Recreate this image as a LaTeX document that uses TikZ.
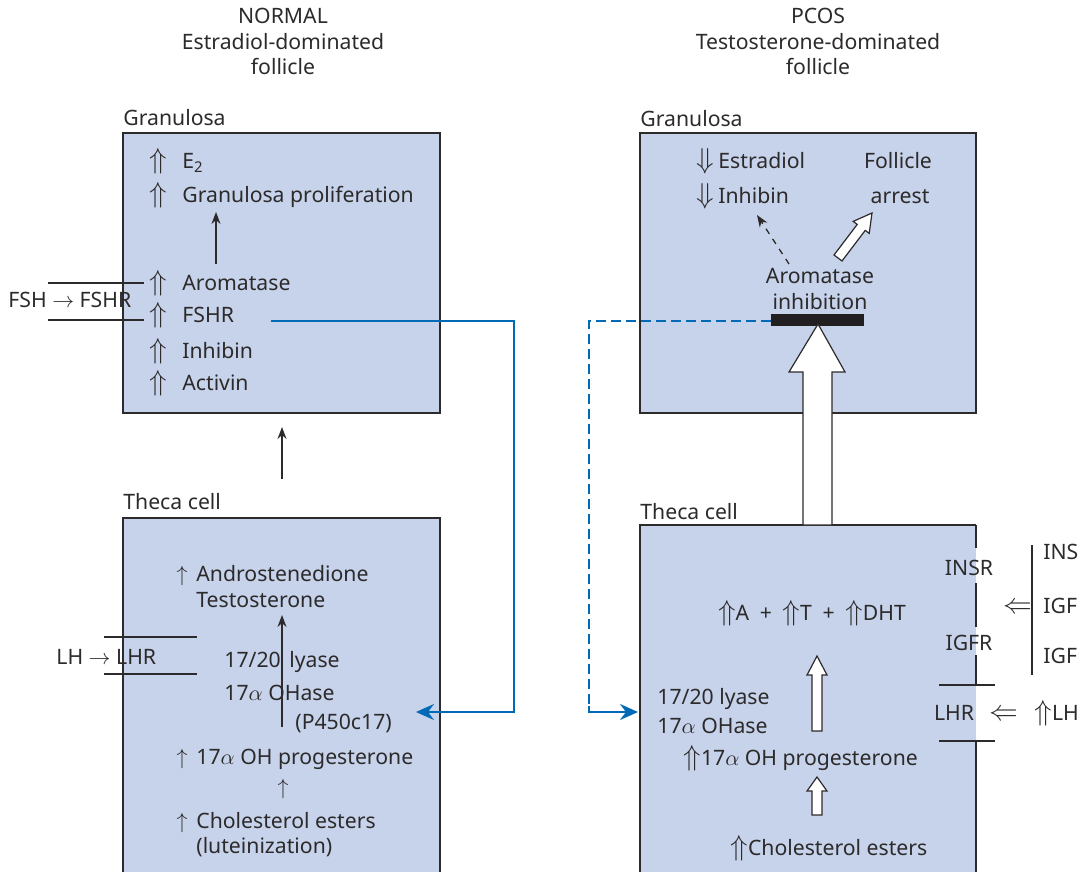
\documentclass[tikz,border=0pt]{standalone}
\usepackage{fontspec}
\setmainfont{Noto Sans}
\usetikzlibrary{arrows.meta,positioning}
\definecolor{cellfill}{RGB}{198,211,234}
\definecolor{inkgray}{RGB}{45,42,43}
\definecolor{linkblue}{RGB}{0,106,182}
\definecolor{barblack}{RGB}{35,31,32}

% big up/down/left marks next to the labels
\newcommand{\UpDbl}{{\fontsize{14}{14}\selectfont$\Uparrow$}}
\newcommand{\DownDbl}{{\fontsize{14}{14}\selectfont$\Downarrow$}}
\newcommand{\LeftDbl}{{\fontsize{14}{14}\selectfont$\Leftarrow$}}
\newcommand{\UpSgl}{{\fontsize{11}{11}\selectfont$\uparrow$}}

\tikzset{
  cellbox/.style={fill=cellfill},
  cellwall/.style={draw=inkgray,line width=0.7pt},
  txt/.style={inner sep=0pt,anchor=base west,text=inkgray,font=\fontsize{10.6}{12}\selectfont},
  ctxt/.style={txt,anchor=base},
  head/.style={ctxt},
  sym/.style={inner sep=0pt,anchor=base,text=inkgray},
  thinarrow/.style={draw=inkgray,line width=0.65pt,-{Stealth[length=6pt,width=4.5pt]}},
  openarrow/.style={draw=inkgray,fill=white,line width=0.6pt,line join=miter},
  bluelink/.style={draw=linkblue,line width=1pt},
  bluehead/.style={-{Stealth[length=9pt,width=8pt,inset=3pt]}},
  membrane/.style={draw=inkgray,line width=0.6pt}
}

\begin{document}
\begin{tikzpicture}[x=0.5pt,y=-0.5pt]
    \useasboundingbox (0,0) rectangle (1079,871);

    % Column headings
    \node[head] (nTitle) at (283,24) {NORMAL};
    \node[head] (nSub) at (283,50) {Estradiol-dominated};
    \node[head] (nFol) at (283,75) {follicle};
    \node[head] (pTitle) at (818,24) {PCOS};
    \node[head] (pSub) at (818,50) {Testosterone-dominated};
    \node[head] (pFol) at (818,75) {follicle};

    % Normal: granulosa cell
    \fill[cellbox] (123,133) rectangle (440,413);
    \draw[cellwall] (123,133) rectangle (440,413);
    \node[txt] (nGranLbl) at (123,126) {Granulosa};
    \foreach \y/\nm/\txt in {169/e2/{E\textsubscript{2}},203/prolif/{Granulosa proliferation},
                             291/arom/Aromatase,322/fshr/FSHR,358/inhib/Inhibin,390/activ/Activin}{
        \node[txt] (\nm) at (182,\y) {\txt};
        \node[sym] (\nm-up) at (158,\y) {\UpDbl};
    }
    \draw[thinarrow] (216,264) -- (216,212);

    % FSH receptor
    \draw[membrane] (48,283) -- (144,283);
    \draw[membrane] (48,320) -- (144,320);
    \node[txt] (fsh) at (8,307) {FSH $\rightarrow$ FSHR};

    % theca -> granulosa
    \draw[thinarrow] (282,479) -- (282,427);

    % Normal: theca cell
    \fill[cellbox] (123,518) rectangle (440,872);
    \draw[cellwall] (123,872) |- (440,518) -- (440,872);
    \node[txt] (nThecaLbl) at (123,509) {Theca cell};
    \node[sym] (andro-up) at (182,581) {\UpSgl};
    \node[txt] (andro) at (196,581) {Androstenedione};
    \node[txt] (testo) at (196,607) {Testosterone};
    \node[txt] (lyase1) at (224,667) {17/20};
    \node[txt] (lyase2) at (289,667) {lyase};
    \node[txt] (ohase) at (224,700) {17$\alpha$ OHase};
    \node[txt] (p450) at (295,729) {(P450c17)};
    \draw[thinarrow] (282,727) -- (282,615);
    \node[sym] (ohp-up) at (182,764) {\UpSgl};
    \node[txt] (ohp) at (196,764) {17$\alpha$ OH progesterone};
    \node[sym] (chol-up2) at (283,794) {\UpSgl};
    \node[sym] (chol-up) at (182,828) {\UpSgl};
    \node[txt] (chol) at (196,828) {Cholesterol esters};
    \node[txt] (lutein) at (196,853) {(luteinization)};

    % LH receptor
    \draw[membrane] (104,637) -- (197,637);
    \draw[membrane] (104,674) -- (197,674);
    \node[txt] (lh) at (56,664) {LH $\rightarrow$ LHR};

    % FSHR feeds the theca enzymes
    \draw[bluelink,bluehead] (271,321) -| (514,712) -- (416,712);

    % PCOS: granulosa cell
    \fill[cellbox] (640,133) rectangle (976,413);
    \draw[cellwall] (640,133) rectangle (976,413);
    \node[txt] (pGranLbl) at (640,127) {Granulosa};
    \node[sym] (estr-dn) at (705,169) {\DownDbl};
    \node[txt] (estr) at (718,169) {Estradiol};
    \node[sym] (pinh-dn) at (705,204) {\DownDbl};
    \node[txt] (pinh) at (718,204) {Inhibin};
    \node[ctxt] (foll) at (898,169) {Follicle};
    \node[ctxt] (arrest) at (900,204) {arrest};
    \node[ctxt] (aromInh1) at (820,284) {Aromatase};
    \node[ctxt] (aromInh2) at (820,309) {inhibition};
    \draw[thinarrow,dashed] (789,264) -- (757,215);
    \draw[openarrow] (834,255) -- (857.2,224.4) -- (853.2,221.4) -- (872,213)
        -- (869.2,233.4) -- (865.2,230.4) -- (842,261) -- cycle;
    \fill[barblack] (771,314) rectangle (864,326);

    % PCOS: theca cell
    \fill[cellbox] (640,525) rectangle (976,872);
    \draw[cellwall] (640,872) |- (976,525);
    \draw[cellwall] (976,525) -- (976,548);
    \draw[cellwall] (976,583) -- (976,627);
    \draw[cellwall] (976,655) -- (976,685);
    \draw[cellwall] (976,741) -- (976,872);
    \node[txt] (pThecaLbl) at (640,519) {Theca cell};
    \node[ctxt] (andro2) at (812,620) {\UpDbl A\enspace+\enspace\UpDbl T\enspace+\enspace\UpDbl DHT};
    \draw[openarrow] (812,731) -- (812,675) -- (807,675) -- (817,656) -- (827,675) -- (822,675) -- (822,731) -- cycle;
    \node[txt] (plyase) at (657,704) {17/20 lyase};
    \node[txt] (pohase) at (657,733) {17$\alpha$ OHase};
    \node[txt] (pohp) at (683,765) {\UpDbl 17$\alpha$ OH progesterone};
    \draw[openarrow] (812,815) -- (812,791) -- (807,791) -- (817,777) -- (827,791) -- (822,791) -- (822,815) -- cycle;
    \node[txt] (pchol) at (730,855) {\UpDbl Cholesterol esters};

    % theca androgens block aromatase
    \draw[openarrow] (803,525) -- (803,372) -- (789,372) -- (818,324) -- (845,372) -- (832,372) -- (832,525) -- cycle;

    % FSHR link, lost in PCOS
    \draw[bluelink,dashed,dash pattern=on 5pt off 2.5pt] (771,321) -| (589,706);
    \draw[bluelink,bluehead] (589,706) -- (589,712) -- (638,712);

    % insulin / IGF receptors
    \node[ctxt] (insr) at (969,575) {INSR};
    \node[ctxt] (igfr) at (969,650) {IGFR};
    \draw[membrane] (1032,545) -- (1032,675);
    \node[sym] (insArr) at (1018,613) {\LeftDbl};
    \node[txt] (ins) at (1043,559) {INS};
    \node[txt] (igf1) at (1043,613) {IGF};
    \node[txt] (igf2) at (1043,663) {IGF};

    % LH receptor
    \draw[membrane] (939,685) -- (995,685);
    \draw[membrane] (939,741) -- (995,741);
    \node[ctxt] (plhr) at (954,720) {LHR};
    \node[sym] (lhArr) at (1004,720) {\LeftDbl};
    \node[txt] (plh) at (1034,720) {\UpDbl LH};
\end{tikzpicture}
\end{document}
